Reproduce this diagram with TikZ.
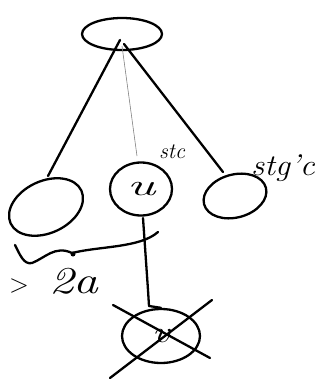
\documentclass[tikz,border=0pt]{standalone}
\usepackage{fontspec}
\usetikzlibrary{shapes.geometric}
\begin{document}
\begin{tikzpicture}[x=1pt,y=-1pt,
  pen/.style={line width=2.3pt,line cap=round,line join=round},
  blob/.style={draw,ellipse,pen,inner sep=0pt},
  hand/.style={font=\fontsize{30}{30}\selectfont\itshape},
  tiny label/.style={font=\fontsize{22}{22}\selectfont\itshape}]
\useasboundingbox (0,0) rectangle (320,381);
\node[blob,minimum width=80pt,minimum height=32pt] (top) at (122,34) {};
\node[blob,minimum width=78pt,minimum height=52pt,rotate=25] (left) at (46,207) {};
\node[blob,minimum width=62pt,minimum height=53pt,hand] (u) at (141,189) {\scalebox{1.8}[1]{u}};
\node[blob,minimum width=64pt,minimum height=43pt,rotate=15] (right) at (235,196) {};
\node[blob,minimum width=78pt,minimum height=54pt,hand] (v) at (161,336) {\scalebox{1.3}[1]{v}};
\coordinate (ta) at (120,40);
\coordinate (tb) at (122,46);
\coordinate (tc) at (124,44);
\draw[pen] (ta) -- (48,176);
\draw[line width=0.6pt,gray] (tb) -- (137,156);
\draw[pen] (tc) -- (223,172);
\draw[pen] (143,218) -- (148,290) -- (149,306) -- (v.north);
\draw[pen] (113,305) -- (210,358);
\draw[pen] (110,378) -- (212,300);
\draw[pen] (15,245) .. controls (20,255) and (24,265) .. (32,263)
  .. controls (45,258) and (55,245) .. (72,253)
  .. controls (100,246) and (140,248) .. (158,232);
\fill (73,254) circle (2.5pt);
\node[font=\fontsize{26}{26}\selectfont] (gtsign) at (19,286) {>};
\node[font=\fontsize{38}{38}\selectfont\itshape] (gt) at (74,281) {\scalebox{1.3}[1]{2a}};
\node[tiny label] (l1) at (172,152) {stc};
\node[font=\fontsize{30}{30}\selectfont\itshape] (l2) at (283,168) {\scalebox{1.1}[1]{stg'c}};
\end{tikzpicture}
\end{document}
